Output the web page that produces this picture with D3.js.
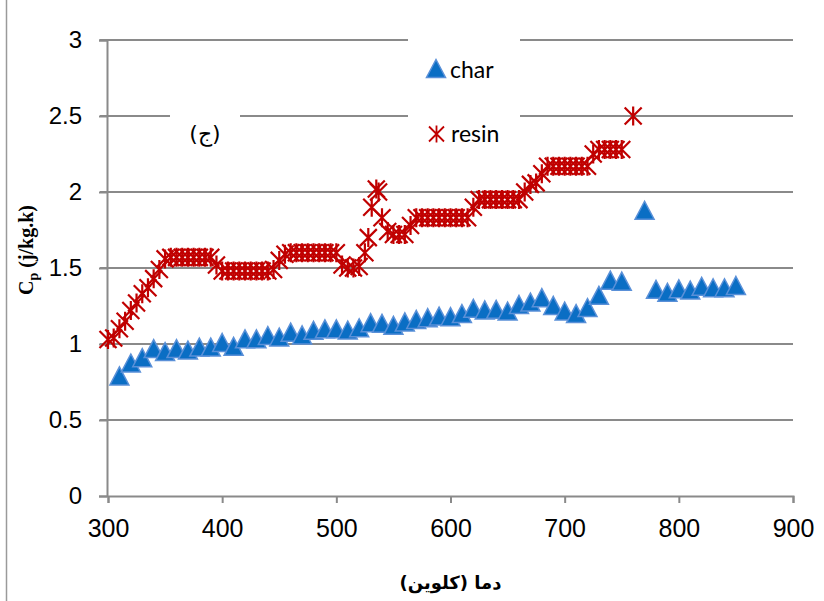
<!DOCTYPE html>
<html>
<head>
<meta charset="utf-8">
<script src="https://cdnjs.cloudflare.com/ajax/libs/d3/7.8.5/d3.min.js"></script>
<style>
  html, body { margin: 0; padding: 0; background: #fff; }
  svg { display: block; }
</style>
</head>
<body>
<svg id="chart" width="824" height="601"></svg>
<script>
// ---- data ----
const xTicks = [300, 400, 500, 600, 700, 800, 900];
const yTicks = [0, 0.5, 1, 1.5, 2, 2.5, 3];
const yTickLabels = ["0", "0.5", "1", "1.5", "2", "2.5", "3"];

const charX = [310,320,330,340,350,360,370,380,390,400,410,420,430,440,450,460,470,480,490,500,
               510,520,530,540,550,560,570,580,590,600,610,620,630,640,650,660,670,680,690,700,
               710,720,730,740,750,770,780,790,800,810,820,830,840,850];
const charY = [0.79,0.875,0.91,0.97,0.95,0.97,0.96,0.98,0.98,1.01,0.985,1.034,1.034,1.056,1.046,1.078,1.06,1.09,1.10,1.10,
               1.092,1.107,1.14,1.136,1.123,1.145,1.162,1.173,1.184,1.18,1.20,1.235,1.224,1.228,1.217,1.26,1.276,1.305,1.254,1.217,
               1.20,1.24,1.32,1.42,1.413,1.88,1.36,1.34,1.363,1.355,1.38,1.37,1.37,1.385];

const resinX = [300,305,310,315,320,325,330,335,340,345,350,355,360,365,370,375,380,385,390,395,
                400,405,410,415,420,425,430,435,440,445,450,455,460,465,470,475,480,485,490,495,
                500,505,510,515,520,525,528,531,535,537,540,545,550,555,560,565,570,575,580,585,
                590,595,600,605,610,615,620,625,630,635,640,645,650,655,660,665,670,675,680,685,
                690,695,700,705,710,715,720,725,730,735,740,745,750,760];
const resinY = [1.03,1.04,1.10,1.15,1.22,1.27,1.33,1.37,1.43,1.49,1.56,1.57,1.57,1.57,1.57,1.57,1.57,1.57,1.57,1.52,
                1.48,1.48,1.48,1.48,1.48,1.48,1.48,1.48,1.48,1.49,1.55,1.59,1.60,1.60,1.60,1.60,1.60,1.60,1.60,1.60,
                1.60,1.52,1.50,1.50,1.51,1.60,1.70,1.90,2.02,2.00,1.83,1.74,1.72,1.72,1.72,1.78,1.83,1.83,1.83,1.83,
                1.83,1.83,1.83,1.83,1.83,1.83,1.90,1.95,1.95,1.95,1.95,1.95,1.95,1.95,1.95,2.00,2.05,2.06,2.12,2.17,
                2.17,2.17,2.17,2.17,2.17,2.17,2.17,2.25,2.28,2.28,2.28,2.28,2.28,2.50];

const seriesNames = ["char", "resin"];
const xTitle = "دما (کلوین)";
const panelLabel = "(ج)";

// ---- layout ----
const svg = d3.select("#chart");
const pLeft = 108, pRight = 793, pTop = 40, pBottom = 496;
const x = d3.scaleLinear().domain([300, 900]).range([pLeft, pRight]);
const y = d3.scaleLinear().domain([0, 3]).range([pBottom, pTop]);
const gridColor = "#8a8a8a";

svg.append("rect").attr("width", 824).attr("height", 601).attr("fill", "#fff");
// outer chart border (left edge visible)
svg.append("line").attr("x1", 6.5).attr("x2", 6.5).attr("y1", 0).attr("y2", 601)
  .attr("stroke", "#9a9a9a").attr("stroke-width", 1.5);

// gridlines
svg.append("g").selectAll("line").data(yTicks.filter(d => d > 0)).join("line")
  .attr("x1", pLeft - 8).attr("x2", pRight)
  .attr("y1", d => y(d)).attr("y2", d => y(d))
  .attr("stroke", gridColor).attr("stroke-width", 2);

// y axis
const yAxis = d3.axisLeft(y).tickValues(yTicks).tickFormat((d, i) => yTickLabels[i]).tickSize(8).tickPadding(17);
const gy = svg.append("g").attr("transform", `translate(${pLeft - 1},0)`).call(yAxis);
gy.select(".domain").attr("stroke", gridColor).attr("stroke-width", 2);
gy.selectAll(".tick line").attr("stroke", gridColor).attr("stroke-width", 2);
gy.selectAll(".tick text").attr("font-family", "Liberation Sans, Arial, sans-serif")
  .attr("font-size", 24).attr("fill", "#000");

// x axis
const xAxis = d3.axisBottom(x).tickValues(xTicks).tickFormat(d3.format("d")).tickSize(7).tickPadding(16);
const gx = svg.append("g").attr("transform", `translate(0,${pBottom})`).call(xAxis);
gx.select(".domain").attr("stroke", gridColor).attr("stroke-width", 2);
gx.selectAll(".tick line").attr("stroke", gridColor).attr("stroke-width", 2);
gx.selectAll(".tick text").attr("font-family", "Liberation Sans, Arial, sans-serif")
  .attr("font-size", 25).attr("fill", "#000");

// white boxes behind legend and panel label
svg.append("rect").attr("x", 408).attr("y", 26).attr("width", 112).attr("height", 135).attr("fill", "#fff");
svg.append("rect").attr("x", 170).attr("y", 104).attr("width", 70).attr("height", 52).attr("fill", "#fff");

// marker shapes
const triPath = "M0,-9L9.5,9L-9.5,9Z";
const starPath = "M-8.5,-8.5L8.5,8.5M-8.5,8.5L8.5,-8.5M0,-9.5L0,9.5";
const legendStar = "M-7.5,-7.5L7.5,7.5M-7.5,7.5L7.5,-7.5M0,-8.5L0,8.5";
const triFill = "#0A6EC4", triStroke = "#5A90D8";
const starColor = "#C00000";

// char series
const charData = charX.map((d, i) => [d, charY[i]]);
svg.append("g").selectAll("path").data(charData).join("path")
  .attr("d", triPath)
  .attr("transform", d => `translate(${x(d[0])},${y(d[1])})`)
  .attr("fill", triFill).attr("stroke", triStroke).attr("stroke-width", 1.5);

// resin series
const resinData = resinX.map((d, i) => [d, resinY[i]]);
svg.append("g").selectAll("path").data(resinData).join("path")
  .attr("d", starPath)
  .attr("transform", d => `translate(${x(d[0])},${y(d[1])})`)
  .attr("fill", "none").attr("stroke", starColor).attr("stroke-width", 2.2);

// legend
const lg = svg.append("g");
lg.append("path").attr("d", triPath).attr("transform", "translate(436,68.5)")
  .attr("fill", triFill).attr("stroke", triStroke).attr("stroke-width", 1.5);
lg.append("text").attr("x", 450).attr("y", 78).text(seriesNames[0])
  .attr("font-family", "Lato, Carlito, sans-serif").attr("font-size", 23).attr("fill", "#000");
lg.append("path").attr("d", legendStar).attr("transform", "translate(436.5,134)")
  .attr("fill", "none").attr("stroke", starColor).attr("stroke-width", 1.8);
lg.append("text").attr("x", 451).attr("y", 142).text(seriesNames[1])
  .attr("font-family", "Lato, Carlito, sans-serif").attr("font-size", 23).attr("fill", "#000");

// panel label
svg.append("text").attr("x", 205).attr("y", 141).attr("text-anchor", "middle")
  .attr("direction", "rtl").attr("font-family", "DejaVu Sans, sans-serif").attr("font-size", 22)
  .attr("fill", "#000").text(panelLabel);

// x title
svg.append("text").attr("x", (pLeft + pRight) / 2).attr("y", 589).attr("text-anchor", "middle")
  .attr("direction", "rtl").attr("font-family", "DejaVu Sans, sans-serif").attr("font-weight", "bold")
  .attr("font-size", 18).attr("fill", "#000").text(xTitle);

// y title
const yt = svg.append("text").attr("transform", "translate(33,250) rotate(-90)")
  .attr("text-anchor", "middle").attr("font-family", "Liberation Serif, Times New Roman, serif")
  .attr("font-weight", "bold").attr("font-size", 20).attr("fill", "#000");
yt.append("tspan").text("C");
yt.append("tspan").attr("font-size", 14).attr("dy", 5).text("p");
yt.append("tspan").attr("dy", -5).text(" (j/kg.k)");
</script>
</body>
</html>
